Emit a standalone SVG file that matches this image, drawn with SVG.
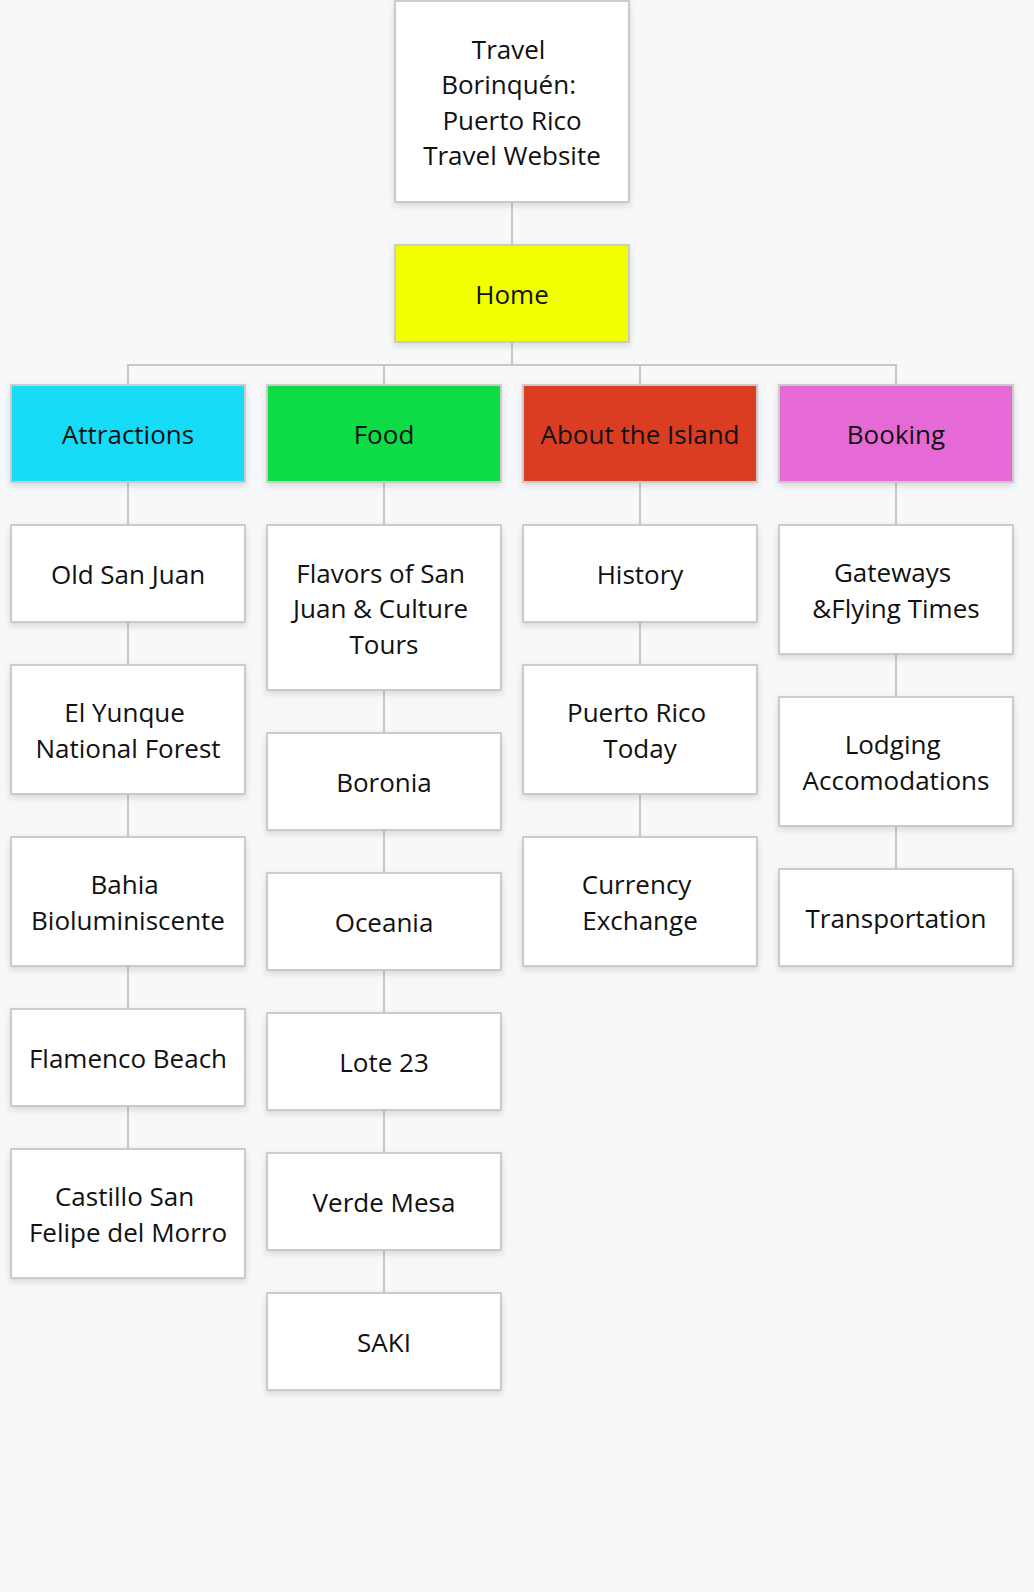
<svg xmlns="http://www.w3.org/2000/svg" width="1034" height="1592" viewBox="0 0 1034 1592">
<defs>
<filter id="sh" x="-10%" y="-10%" width="120%" height="130%">
<feDropShadow dx="0" dy="3" stdDeviation="3" flood-color="#000" flood-opacity="0.13"/>
</filter>
<style>
.n rect{stroke:#cbcbcb;stroke-width:2;filter:url(#sh)}
.w{fill:#ffffff}
text{font-family:"Open Sans","Noto Sans","Liberation Sans",sans-serif;font-size:26px;fill:#111;text-anchor:middle}
.c line{stroke:#c8c8c8;stroke-width:2}
</style>
</defs>
<rect x="0" y="0" width="1034" height="1592" fill="#f7f8fa"/>
<g class="c" id="connectors">
<line x1="512" y1="203" x2="512" y2="244"/>
<line x1="512" y1="343" x2="512" y2="365"/>
<line x1="127" y1="365" x2="897" y2="365"/>
<line x1="128" y1="365" x2="128" y2="384"/>
<line x1="384" y1="365" x2="384" y2="384"/>
<line x1="640" y1="365" x2="640" y2="384"/>
<line x1="896" y1="365" x2="896" y2="384"/>
<line x1="128" y1="483" x2="128" y2="524"/>
<line x1="128" y1="623" x2="128" y2="664"/>
<line x1="128" y1="795" x2="128" y2="836"/>
<line x1="128" y1="967" x2="128" y2="1008"/>
<line x1="128" y1="1107" x2="128" y2="1148"/>
<line x1="384" y1="483" x2="384" y2="524"/>
<line x1="384" y1="691" x2="384" y2="732"/>
<line x1="384" y1="831" x2="384" y2="872"/>
<line x1="384" y1="971" x2="384" y2="1012"/>
<line x1="384" y1="1111" x2="384" y2="1152"/>
<line x1="384" y1="1251" x2="384" y2="1292"/>
<line x1="640" y1="483" x2="640" y2="524"/>
<line x1="640" y1="623" x2="640" y2="664"/>
<line x1="640" y1="795" x2="640" y2="836"/>
<line x1="896" y1="483" x2="896" y2="524"/>
<line x1="896" y1="655" x2="896" y2="696"/>
<line x1="896" y1="827" x2="896" y2="868"/>
</g>
<g class="n" id="root"><rect class="w" x="395" y="1" width="234" height="201"/>
<text x="508.6" y="58.8">Travel</text><text x="508.6" y="94.3">Borinquén:</text><text x="512" y="129.8">Puerto Rico</text><text x="512" y="165.3">Travel Website</text></g>
<g class="n" id="home"><rect x="395" y="245" width="234" height="97" fill="#f2ff00"/><text x="512" y="304">Home</text></g>
<g class="n" id="attractions"><rect x="11" y="385" width="234" height="97" fill="#18dcf8"/><text x="128" y="444">Attractions</text></g>
<g class="n" id="food"><rect x="267" y="385" width="234" height="97" fill="#0cdc46"/><text x="384" y="444">Food</text></g>
<g class="n" id="about"><rect x="523" y="385" width="234" height="97" fill="#da3e23"/><text x="640" y="444">About the Island</text></g>
<g class="n" id="booking"><rect x="779" y="385" width="234" height="97" fill="#e66bd6"/><text x="896" y="444">Booking</text></g>
<g class="n" id="old-san-juan"><rect class="w" x="11" y="525" width="234" height="97"/><text x="128" y="584">Old San Juan</text></g>
<g class="n" id="el-yunque"><rect class="w" x="11" y="665" width="234" height="129"/><text x="124.6" y="722.3">El Yunque</text><text x="128" y="757.8">National Forest</text></g>
<g class="n" id="bahia"><rect class="w" x="11" y="837" width="234" height="129"/><text x="124.6" y="894.3">Bahia</text><text x="128" y="929.8">Bioluminiscente</text></g>
<g class="n" id="flamenco"><rect class="w" x="11" y="1009" width="234" height="97"/><text x="128" y="1068">Flamenco Beach</text></g>
<g class="n" id="castillo"><rect class="w" x="11" y="1149" width="234" height="129"/><text x="124.6" y="1206.3">Castillo San</text><text x="128" y="1241.8">Felipe del Morro</text></g>
<g class="n" id="flavors"><rect class="w" x="267" y="525" width="234" height="165"/><text x="380.6" y="582.5">Flavors of San</text><text x="380.6" y="618">Juan &amp; Culture</text><text x="384" y="653.5">Tours</text></g>
<g class="n" id="boronia"><rect class="w" x="267" y="733" width="234" height="97"/><text x="384" y="792">Boronia</text></g>
<g class="n" id="oceania"><rect class="w" x="267" y="873" width="234" height="97"/><text x="384" y="932">Oceania</text></g>
<g class="n" id="lote-23"><rect class="w" x="267" y="1013" width="234" height="97"/><text x="384" y="1072">Lote 23</text></g>
<g class="n" id="verde-mesa"><rect class="w" x="267" y="1153" width="234" height="97"/><text x="384" y="1212">Verde Mesa</text></g>
<g class="n" id="saki"><rect class="w" x="267" y="1293" width="234" height="97"/><text x="384" y="1352">SAKI</text></g>
<g class="n" id="history"><rect class="w" x="523" y="525" width="234" height="97"/><text x="640" y="584">History</text></g>
<g class="n" id="pr-today"><rect class="w" x="523" y="665" width="234" height="129"/><text x="636.6" y="722.3">Puerto Rico</text><text x="640" y="757.8">Today</text></g>
<g class="n" id="currency"><rect class="w" x="523" y="837" width="234" height="129"/><text x="636.6" y="894.3">Currency</text><text x="640" y="929.8">Exchange</text></g>
<g class="n" id="gateways"><rect class="w" x="779" y="525" width="234" height="129"/><text x="892.6" y="582.3">Gateways</text><text x="896" y="617.8">&amp;Flying Times</text></g>
<g class="n" id="lodging"><rect class="w" x="779" y="697" width="234" height="129"/><text x="892.6" y="754.3">Lodging</text><text x="896" y="789.8">Accomodations</text></g>
<g class="n" id="transportation"><rect class="w" x="779" y="869" width="234" height="97"/><text x="896" y="928">Transportation</text></g>
</svg>
